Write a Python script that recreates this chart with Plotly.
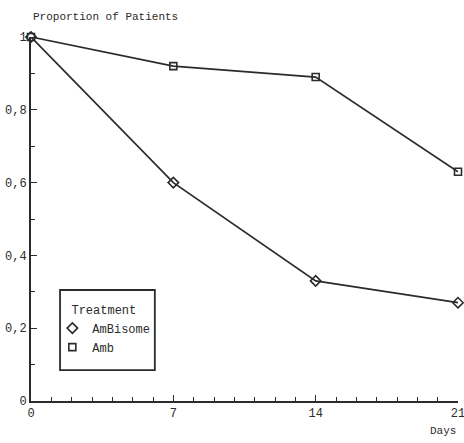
import plotly.graph_objects as go

days = [0, 7, 14, 21]
ambisome = [1.0, 0.60, 0.33, 0.27]
amb = [1.0, 0.92, 0.89, 0.63]
x_ticks = [0, 7, 14, 21]
y_ticks = [0, 0.2, 0.4, 0.6, 0.8, 1]
y_tick_labels = ["0", "0,2", "0,4", "0,6", "0,8", "1"]

ink = "#2b2b2b"
font_fam = "Liberation Mono, DejaVu Sans Mono, monospace"

fig = go.Figure()
fig.add_trace(go.Scatter(x=days, y=amb, mode="lines+markers", showlegend=False,
                         line=dict(color=ink, width=1.7),
                         marker=dict(symbol="square-open", size=7, color=ink, line=dict(width=1.6)),
                         cliponaxis=False))
fig.add_trace(go.Scatter(x=days, y=ambisome, mode="lines+markers", showlegend=False,
                         line=dict(color=ink, width=1.7),
                         marker=dict(symbol="diamond-open", size=8, color=ink, line=dict(width=1.6)),
                         cliponaxis=False))
# legend entries (markers only)
fig.add_trace(go.Scatter(x=[None], y=[None], mode="markers", name="AmBisome",
                         marker=dict(symbol="diamond-open", size=8, color=ink, line=dict(width=1.6))))
fig.add_trace(go.Scatter(x=[None], y=[None], mode="markers", name="Amb",
                         marker=dict(symbol="square-open", size=7, color=ink, line=dict(width=1.6))))

fig.update_layout(
    width=464, height=443,
    margin=dict(l=31, r=6, t=37, b=42, autoexpand=False),
    paper_bgcolor="white", plot_bgcolor="white",
    separators=", ",
    font=dict(family=font_fam, size=11, color=ink),
    showlegend=True,
    legend=dict(
        x=0.05, y=0.283, xanchor="left", yanchor="top",
        borderwidth=0, bgcolor="rgba(0,0,0,0)",
        title=dict(text="Treatment", side="top center", font=dict(size=12)),
        font=dict(size=12), itemwidth=30, tracegroupgap=0,
    ),
    shapes=[
        dict(type="rect", xref="paper", yref="paper", x0=0.068, x1=0.290, y0=0.085, y1=0.305,
             line=dict(color=ink, width=1.8), fillcolor="rgba(0,0,0,0)", layer="below"),
    ],
    xaxis=dict(
        range=[0, 21], tickvals=x_ticks, ticks="inside", ticklen=6, tickwidth=1,
        tickcolor=ink, showline=True, linecolor=ink, linewidth=2, showgrid=False,
        zeroline=False, tickfont=dict(size=12), automargin=False, ticklabeloverflow="allow",
        minor=dict(dtick=1, ticks="inside", ticklen=4, tickcolor=ink, tickwidth=1),
    ),
    yaxis=dict(
        range=[0, 1], tickvals=y_ticks, ticktext=y_tick_labels, ticks="inside",
        ticklen=6, tickwidth=1, tickcolor=ink, showline=True, linecolor=ink,
        linewidth=2, showgrid=False, zeroline=False, tickfont=dict(size=12),
        automargin=False, ticklabeloverflow="allow",
        minor=dict(dtick=0.1, ticks="inside", ticklen=4, tickcolor=ink, tickwidth=1),
    ),
    annotations=[
        dict(text="Proportion of Patients", xref="paper", yref="paper", x=0.0, y=1.0,
             xanchor="left", yanchor="bottom", yshift=12, showarrow=False, font=dict(size=11)),
        dict(text="Days", xref="paper", yref="paper", x=1.0, y=0, xanchor="right",
             yanchor="top", yshift=-22, showarrow=False, font=dict(size=11)),
    ],
)

fig.write_html("out.html", config={"displayModeBar": False},
               post_script="document.body.style.margin='0px';document.body.style.overflow='hidden';")
